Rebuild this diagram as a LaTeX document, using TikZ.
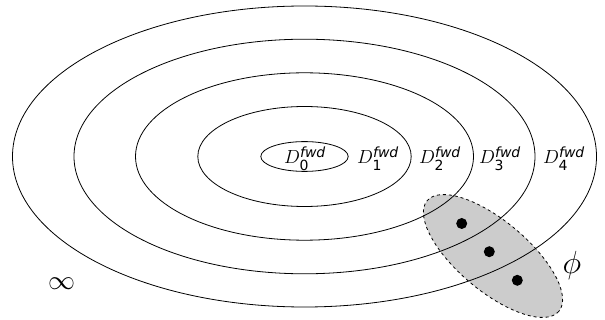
\RequirePackage{fix-cm}
\documentclass[tikz,border=0pt]{standalone}
\usepackage{amsmath}
\usepackage{fontspec}
\newfontfamily\dv{DejaVu Sans}
\newcommand\dlab[1]{$D^{\text{\dv\itshape\fontsize{14}{14}\selectfont fwd}}_{\text{\dv\fontsize{14}{14}\selectfont #1}}$}
\tikzset{
  ring/.style={draw=black, line width=0.8pt},
  lab/.style={font=\fontsize{19}{21}\selectfont, inner sep=0pt, anchor=base},
  blob/.style={fill=black!20},
  blobline/.style={draw=black, dashed, line width=0.8pt},
  dot/.style={circle, fill=black, minimum size=11pt, inner sep=0pt}
}
\begin{document}
\begin{tikzpicture}[x=1pt, y=-1pt]
\useasboundingbox (0,0) rectangle (605,320);
\coordinate (c) at (304.5,156.5);
\coordinate (b) at (493,256);
% grey set
\begin{scope}[shift={(b)}, rotate=-40]
  \fill[blob] (0,0) ellipse [x radius=86, y radius=35];
\end{scope}
% rings
\draw[ring] (c) ellipse [x radius=292, y radius=150.5];
\draw[ring] (c) ellipse [x radius=230.5, y radius=117.3];
\draw[ring] (c) ellipse [x radius=169, y radius=83.7];
\draw[ring] (c) ellipse [x radius=106.7, y radius=50];
\draw[ring] (c) ellipse [x radius=43.7, y radius=14.9];
% dashed border
\begin{scope}[shift={(b)}, rotate=-40]
  \draw[blobline] (0,0) ellipse [x radius=86, y radius=35];
\end{scope}
% labels
\node[lab] (d0) at (305,164) {\dlab{0}};
\node[lab] (d1) at (378,164) {\dlab{1}};
\node[lab] (d2) at (440,164) {\dlab{2}};
\node[lab] (d3) at (500,164) {\dlab{3}};
\node[lab] (d4) at (564,164) {\dlab{4}};
% dots
\node[dot] (p1) at (461.7,223.5) {};
\node[dot] (p2) at (489.3,251.7) {};
\node[dot] (p3) at (517.3,280.3) {};
% symbols
\node[font=\fontsize{32}{34}\selectfont, inner sep=0pt] (phi) at (572,266) {$\phi$};
\node[font=\fontsize{27}{29}\selectfont, inner sep=0pt] (inf) at (61.7,284) {$\infty$};
\end{tikzpicture}
\end{document}
